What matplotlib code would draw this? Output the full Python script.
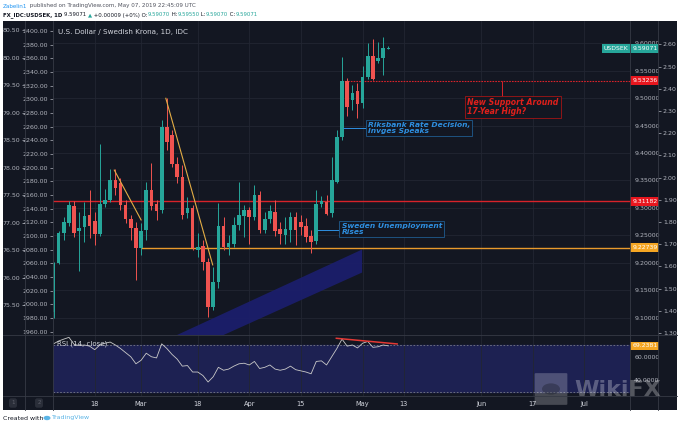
import matplotlib
matplotlib.use("Agg")
import matplotlib.pyplot as plt
import matplotlib.transforms as mtransforms
from matplotlib.lines import Line2D
from matplotlib.patches import Polygon, FancyBboxPatch, Circle

W, H = 680, 426

# ---- daily candles, Feb 6 -> May 8 2019 (bar index 1..66) ----
opens = [9.110, 9.200, 9.254, 9.273, 9.303, 9.258, 9.266, 9.287, 9.277, 9.253,
         9.307, 9.314, 9.351, 9.345, 9.305, 9.279, 9.263, 9.226, 9.260, 9.333,
         9.307, 9.296, 9.448, 9.433, 9.381, 9.357, 9.290, 9.299, 9.224, 9.231,
         9.202, 9.120, 9.165, 9.267, 9.229, 9.235, 9.269, 9.286, 9.296, 9.284,
         9.324, 9.260, 9.279, 9.293, 9.261, 9.251, 9.260, 9.284, 9.275, 9.267,
         9.249, 9.240, 9.308, 9.310, 9.290, 9.348, 9.430, 9.532, 9.497, 9.514,
         9.491, 9.539, 9.577, 9.568, 9.573, 9.5907]
highs = [9.201, 9.258, 9.284, 9.313, 9.313, 9.292, 9.311, 9.333, 9.292, 9.417,
         9.334, 9.371, 9.371, 9.355, 9.314, 9.287, 9.274, 9.272, 9.347, 9.382,
         9.314, 9.460, 9.500, 9.442, 9.393, 9.378, 9.320, 9.305, 9.254, 9.241,
         9.209, 9.193, 9.309, 9.284, 9.251, 9.284, 9.348, 9.305, 9.302, 9.342,
         9.330, 9.293, 9.305, 9.314, 9.275, 9.284, 9.293, 9.293, 9.287, 9.282,
         9.260, 9.333, 9.322, 9.324, 9.393, 9.442, 9.576, 9.537, 9.524, 9.527,
         9.558, 9.600, 9.609, 9.603, 9.611, 9.5955]
lows = [9.100, 9.198, 9.241, 9.267, 9.247, 9.184, 9.238, 9.245, 9.232, 9.249,
        9.302, 9.311, 9.324, 9.296, 9.272, 9.241, 9.168, 9.214, 9.241, 9.296,
        9.278, 9.291, 9.406, 9.374, 9.345, 9.280, 9.281, 9.224, 9.211, 9.187,
        9.101, 9.114, 9.154, 9.223, 9.214, 9.229, 9.260, 9.247, 9.235, 9.278,
        9.254, 9.254, 9.272, 9.249, 9.235, 9.235, 9.238, 9.232, 9.251, 9.238,
        9.217, 9.235, 9.302, 9.287, 9.284, 9.345, 9.424, 9.468, 9.479, 9.464,
        9.482, 9.536, 9.533, 9.564, 9.543, 9.5907]
closes = [9.199, 9.255, 9.274, 9.305, 9.254, 9.263, 9.285, 9.267, 9.253, 9.307,
          9.314, 9.351, 9.336, 9.305, 9.279, 9.263, 9.226, 9.258, 9.333, 9.303,
          9.295, 9.448, 9.421, 9.381, 9.357, 9.287, 9.299, 9.226, 9.229, 9.202,
          9.120, 9.165, 9.267, 9.229, 9.236, 9.269, 9.287, 9.296, 9.283, 9.324,
          9.260, 9.279, 9.295, 9.257, 9.252, 9.261, 9.284, 9.260, 9.266, 9.247,
          9.238, 9.308, 9.313, 9.289, 9.350, 9.430, 9.532, 9.485, 9.510, 9.490,
          9.539, 9.577, 9.535, 9.573, 9.591, 9.59071]
rsi = [71.0, 73.4, 75.0, 76.5, 70.5, 69.5, 70.0, 69.0, 66.0, 70.0,
       71.5, 72.5, 70.0, 67.0, 63.5, 60.0, 54.0, 57.0, 63.0, 60.0,
       59.0, 71.0, 67.0, 62.0, 58.0, 52.0, 52.5, 47.0, 47.0, 44.0,
       38.5, 43.0, 51.0, 48.5, 49.5, 52.0, 54.0, 54.5, 53.0, 56.0,
       50.0, 51.0, 53.0, 49.5, 48.5, 49.5, 52.0, 49.0, 48.0, 47.0,
       45.5, 56.0, 56.5, 53.0, 60.0, 67.0, 75.0, 69.0, 70.0, 67.5,
       71.5, 73.0, 68.0, 68.5, 70.0, 69.2381]

date_ticks = [9, 18, 29, 39, 49, 61, 69, 84, 94, 104]
date_labels = ["18", "Mar", "18", "Apr", "15", "May", "13", "Jun", "17", "Jul"]
price_ticks = [9.10, 9.15, 9.20, 9.25, 9.30, 9.35, 9.40, 9.45, 9.50, 9.55, 9.60]
left1_ticks = [75.50, 76.00, 76.50, 77.00, 77.50, 78.00, 78.50, 79.00, 79.50, 80.00, 80.50]
left2_ticks = list(range(1960, 2401, 20))
right2_ticks = [1.30, 1.40, 1.50, 1.60, 1.70, 1.80, 1.90, 2.00, 2.10, 2.20, 2.30, 2.40, 2.50, 2.60]
rsi_ticks = [40, 60]

# horizontal levels and drawings (bar index, price)
last_price = 9.59071
support_new = 9.53236
level_red = 9.31182
level_orange = 9.22739
trend_a = ([12.8, 18.0], [9.369, 9.278])
trend_b = ([22.8, 31.9], [9.500, 9.196])
channel = [(23.5, 9.0617), (60.9, 9.2241), (60.9, 9.1821), (32.5, 9.0617)]
rsi_trend = ([55.9, 67.7], [75.7, 70.9])

BG = "#131722"
GRID = "#222632"
SEP = "#363a45"
TXT = "#b2b5be"
GREEN = "#26a69a"
RED = "#ef5350"
XLIM = (0.9, 112.9)


def fbox(x0, y0, x1, y1):
    return [x0 / W, 1 - y1 / H, (x1 - x0) / W, (y1 - y0) / H]


fig = plt.figure(figsize=(W / 100, H / 100), dpi=100, facecolor="white")

# dark panel
bg = fig.add_axes(fbox(3, 21, 677, 410), facecolor=BG)
bg.set_xticks([]); bg.set_yticks([])
for s in bg.spines.values():
    s.set_visible(False)

# =========================
# MAIN PRICE PANE
# =========================
ax = fig.add_axes(fbox(53, 21, 630, 335), facecolor="none")
ax.set_xlim(*XLIM)
ax.set_ylim(9.0681, 9.641)
for s in ax.spines.values():
    s.set_visible(False)
ax.set_xticks(date_ticks)
ax.tick_params(axis="x", length=0, labelbottom=False)
ax.yaxis.tick_right()
ax.set_yticks(price_ticks)
ax.set_yticklabels([f"{v:.5f}" for v in price_ticks])
ax.tick_params(axis="y", length=0, pad=3, labelsize=4.5, labelcolor=TXT)
ax.grid(True, color=GRID, lw=0.6)
ax.set_axisbelow(True)

idx = list(range(1, len(closes) + 1))
cols = [GREEN if c >= o else RED for o, c in zip(opens, closes)]
ax.vlines(idx, lows, highs, colors=cols, lw=0.7, zorder=3)
bodies = [max(abs(c - o), 0.0012) for o, c in zip(opens, closes)]
bottoms = [min(o, c) for o, c in zip(opens, closes)]
ax.bar(idx, bodies, bottom=bottoms, width=0.7, color=cols, lw=0, zorder=4)

ax.add_patch(Polygon(channel, closed=True, fc="#1b1e6b", ec="none", alpha=0.95, zorder=2))
ax.axhline(level_red, color="#d8232a", lw=1.0, zorder=2)
ax.hlines(level_orange, 18, XLIM[1], color="#e89a2c", lw=1.0, zorder=2)
ax.hlines(support_new, 57, XLIM[1], color="#d8232a", lw=0.8, ls=(0, (1.5, 1)), zorder=2)
ax.plot(*trend_a, color="#e3ad45", lw=0.8, zorder=5)
ax.plot(*trend_b, color="#e3ad45", lw=0.8, zorder=5)

# callouts
ax.hlines(9.445, 57.2, 61.7, color="#2e8fe0", lw=0.7, zorder=5)
ax.text(62.0, 9.446, "Riksbank Rate Decision,\nInvges Speaks", color="#2e8fe0",
        fontsize=5.4, fontweight="bold", style="italic", ha="left", va="center",
        linespacing=0.95, zorder=6,
        bbox=dict(boxstyle="square,pad=0.3", fc=BG, ec="#1f5c8f", lw=0.6))
ax.hlines(9.260, 52.1, 56.6, color="#2e8fe0", lw=0.7, zorder=5)
ax.text(56.9, 9.2615, "Sweden Unemployment\nRises", color="#2e8fe0",
        fontsize=5.4, fontweight="bold", style="italic", ha="left", va="center",
        linespacing=0.95, zorder=6,
        bbox=dict(boxstyle="square,pad=0.3", fc=BG, ec="#1f5c8f", lw=0.6))
ax.vlines(88.0, 9.498, support_new, color="#d8232a", lw=0.7, zorder=5)
ax.text(81.3, 9.484, "New Support Around\n17-Year High?", color="#e0201b",
        fontsize=5.6, fontweight="bold", style="italic", ha="left", va="center",
        linespacing=0.95, zorder=6,
        bbox=dict(boxstyle="square,pad=0.3", fc=BG, ec="#a31515", lw=0.6))

ax.text(0.008, 0.975, "U.S. Dollar / Swedish Krona, 1D, IDC", transform=ax.transAxes,
        color="#d1d4dc", fontsize=5.2, ha="left", va="top")

# price tags on right scale
trans = mtransforms.blended_transform_factory(ax.transAxes, ax.transData)


def tag(y, text, color, x=1.004, ha="left"):
    ax.text(x, y, text, transform=trans, ha=ha, va="center", fontsize=4.4,
            color="white", clip_on=False, zorder=10,
            bbox=dict(boxstyle="square,pad=0.3", fc=color, ec="none"))


tag(last_price, f"{last_price:.5f}", "#26a69a")
tag(last_price, "USDSEK", "#26a69a", x=0.997, ha="right")
tag(support_new, f"{support_new:.5f}", "#e8161e")
tag(level_red, f"{level_red:.5f}", "#e8161e")
tag(level_orange, f"{level_orange:.5f}", "#f5a623")

# =========================
# EXTRA SCALES (left and far right)
# =========================
def side_scale(x_px, lim, ticks, fmt, side):
    a = fig.add_axes(fbox(x_px, 21, x_px + 0.01, 335), facecolor="none")
    a.set_ylim(*lim)
    a.set_xticks([])
    for s in a.spines.values():
        s.set_visible(False)
    if side == "right":
        a.yaxis.tick_right()
    a.set_yticks(ticks)
    a.set_yticklabels([fmt.format(v) for v in ticks])
    a.tick_params(axis="y", length=2, width=0.5, color=TXT, pad=1.5,
                  labelsize=4.5, labelcolor=TXT)
    return a


side_scale(25, (74.955, 80.664), left1_ticks, "{:.2f}", "left")
side_scale(53, (1955.2, 2414.6), left2_ticks, "{:.2f}", "left")
side_scale(658, (1.291, 2.705), right2_ticks, "{:.2f}", "right")

# =========================
# RSI PANE
# =========================
ar = fig.add_axes(fbox(53, 335, 630, 396), facecolor="none")
ar.set_xlim(*XLIM)
ar.set_ylim(26.6, 78.5)
for s in ar.spines.values():
    s.set_visible(False)
ar.axhspan(30, 70, color="#1d2152", zorder=0)
ar.axhline(70, color="#787b86", lw=0.6, ls=(0, (2, 2)), zorder=1)
ar.axhline(30, color="#787b86", lw=0.6, ls=(0, (2, 2)), zorder=1)
ar.set_xticks(date_ticks)
ar.set_xticklabels(date_labels)
ar.tick_params(axis="x", length=0, pad=3.5, labelsize=4.8, labelcolor="#d1d4dc")
ar.yaxis.tick_right()
ar.set_yticks(rsi_ticks)
ar.set_yticklabels([f"{v:.4f}" for v in rsi_ticks])
ar.tick_params(axis="y", length=0, pad=3, labelsize=4.5, labelcolor=TXT)
ar.grid(True, axis="x", color=GRID, lw=0.6)
ar.set_axisbelow(True)
ar.plot(idx, rsi, color="#c9c9c9", lw=0.6, zorder=3)
ar.plot(*rsi_trend, color="#e53935", lw=1.1, zorder=4)
ar.text(0.007, 0.86, "RSI (14, close)", transform=ar.transAxes, color="#d1d4dc",
        fontsize=5, ha="left", va="center")
rtrans = mtransforms.blended_transform_factory(ar.transAxes, ar.transData)
ar.text(1.004, rsi[-1], f"{rsi[-1]:.4f}", transform=rtrans, ha="left", va="center",
        fontsize=4.4, color="white", clip_on=False, zorder=10,
        bbox=dict(boxstyle="square,pad=0.3", fc="#f5a623", ec="none"))

# separators
for x in (25, 53, 630, 658):
    fig.add_artist(Line2D([x / W, x / W], [1 - 410 / H, 1 - 21 / H], color=SEP, lw=0.6))
for y in (335, 396):
    fig.add_artist(Line2D([3 / W, 677 / W], [1 - y / H, 1 - y / H], color=SEP, lw=0.6))

for x, s in ((13, "1"), (39, "2")):
    fig.text(x / W, 1 - 403 / H, s, color="#5d606b", fontsize=4, ha="center", va="center",
             bbox=dict(boxstyle="round,pad=0.4", fc="#2a2e39", ec="none"))

# watermark
fig.add_artist(FancyBboxPatch((536 / W, 1 - 404 / H), 30 / W, 30 / H,
                              boxstyle="round,pad=0.002", fc="white", ec="none", alpha=0.22))
fig.add_artist(Circle((551 / W, 1 - 389 / H), 9 / W, fc=BG, ec="none", alpha=0.35))
fig.text(574 / W, 1 - 390 / H, "WikiFX", color="white", alpha=0.28, fontsize=16,
         fontweight="bold", ha="left", va="center")

# =========================
# HEADER / FOOTER
# =========================
renderer = fig.canvas.get_renderer()


def text_run(x, y, parts, size):
    # place text pieces one after another on one line
    for s, color, weight in parts:
        t = fig.text(x / W, 1 - y / H, s, color=color, fontsize=size,
                     fontweight=weight, ha="left", va="center")
        x = t.get_window_extent(renderer).x1


DARK = "#131722"
text_run(3, 6, [("Zabelin1", "#2196f3", "normal"),
                (" published on TradingView.com, May 07, 2019 22:45:09 UTC", "#50535e", "normal")],
         4.1)
text_run(3, 15, [("FX_IDC:USDSEK, 1D ", DARK, "bold"),
                 ("9.59071 ", DARK, "normal"),
                 ("\u25b2", "#26a69a", "normal"),
                 (" +0.00009 (+0%) O:", DARK, "normal"),
                 ("9.59070", "#26a69a", "normal"),
                 (" H:", DARK, "normal"),
                 ("9.59550", "#26a69a", "normal"),
                 (" L:", DARK, "normal"),
                 ("9.59070", "#26a69a", "normal"),
                 (" C:", DARK, "normal"),
                 ("9.59071", "#26a69a", "normal")],
         3.9)

text_run(3, 418, [("Created with ", DARK, "normal")], 4.5)
fig.add_artist(Circle((47 / W, 1 - 418 / H), 3.5 / W, fc="#5ab4e6", ec="none"))
text_run(52, 418, [("TradingView", "#5ab4e6", "normal")], 4.5)

fig.savefig("out.png", dpi=100, facecolor="white")
